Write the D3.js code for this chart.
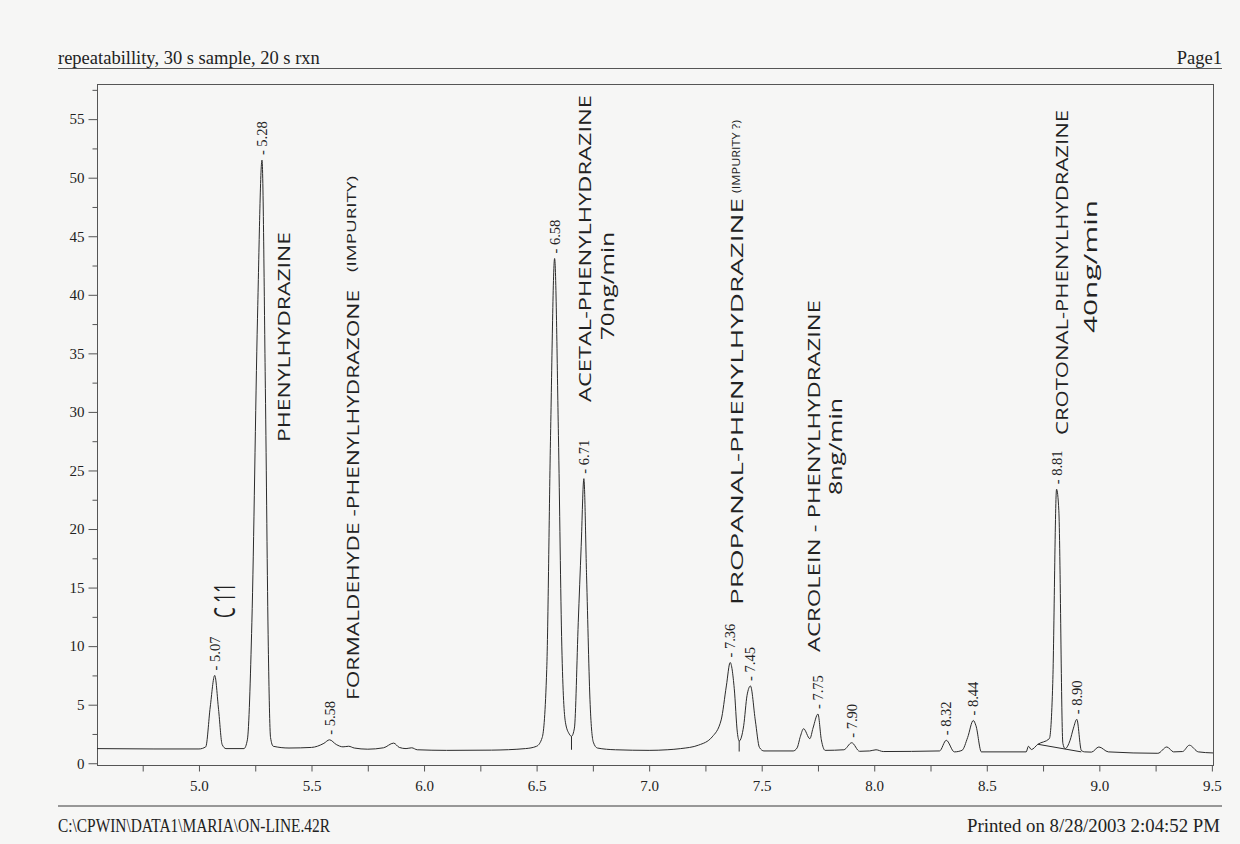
<!DOCTYPE html>
<html>
<head>
<meta charset="utf-8">
<script src="https://cdn.jsdelivr.net/npm/d3@7"></script>
<style>
  html, body { margin: 0; padding: 0; background: #f6f6f5; }
  svg { display: block; }
</style>
</head>
<body>
<svg id="chart" width="1240" height="844"></svg>
<script>
// ---- page texts ----
const titleText = "repeatabillity, 30 s sample, 20 s rxn";
const pageText = "Page1";
const fileText = "C:\\CPWIN\\DATA1\\MARIA\\ON-LINE.42R";
const printedText = "Printed on 8/28/2003 2:04:52 PM";

// ---- labelled peaks: retention time (min) and apex height ----
const peakTimes   = [5.07, 5.28, 5.58, 6.58, 6.71, 7.36, 7.45, 7.75, 7.90, 8.32, 8.44, 8.81, 8.90];
const peakHeights = [7.5, 51.5, 2.0, 43.1, 24.3, 8.6, 6.6, 4.2, 1.75, 1.96, 3.65, 23.4, 3.75];

// ---- the rest of the detector trace (time, signal) ----
const traceTimes = [
  4.547, 4.80, 5.00, 5.03, 5.05, 5.087, 5.103, 5.12, 5.20, 5.215, 5.235, 5.26,
  5.295, 5.308, 5.318, 5.33, 5.40, 5.50, 5.555, 5.61, 5.64, 5.665, 5.69, 5.75,
  5.82, 5.865, 5.89, 5.92, 5.945, 5.97, 6.10, 6.30, 6.45, 6.50, 6.525, 6.545, 6.562,
  6.597, 6.612, 6.628, 6.645, 6.655, 6.668, 6.685, 6.698,
  6.722, 6.738, 6.752, 6.77, 6.85, 7.00, 7.08, 7.14, 7.22, 7.28, 7.32, 7.343,
  7.378, 7.392, 7.40, 7.42, 7.435, 7.472, 7.49, 7.51, 7.64, 7.657, 7.672, 7.686,
  7.714, 7.728, 7.765, 7.782, 7.865, 7.935, 7.98, 8.008, 8.04, 8.29, 8.356,
  8.39, 8.415, 8.452, 8.476, 8.675, 8.685, 8.698, 8.727, 8.778, 8.793,
  8.82, 8.838, 8.848, 8.87, 8.885, 8.92, 8.935, 8.965, 8.998, 9.04, 9.26,
  9.30, 9.33, 9.37, 9.40, 9.44, 9.505
];
const traceValues = [
  1.25, 1.22, 1.22, 1.40, 4.8, 4.6, 1.6, 1.25, 1.25, 2.0, 12, 38,
  32, 10, 2.2, 1.45, 1.3, 1.35, 1.7, 1.6, 1.4, 1.45, 1.3, 1.2,
  1.32, 1.72, 1.35, 1.25, 1.32, 1.15, 1.1, 1.12, 1.25, 1.45, 2.2, 8, 28,
  28, 10, 3.5, 2.5, 2.3, 3.0, 12, 18.5,
  16, 5, 1.8, 1.3, 1.15, 1.1, 1.15, 1.25, 1.55, 2.25, 3.7, 6.6,
  6.4, 2.6, 1.9, 3.2, 5.8, 3.6, 1.35, 1.05, 1.05, 1.3, 2.3, 2.95,
  2.1, 3.0, 2.0, 1.1, 1.15, 1.02, 1.05, 1.15, 1.0, 1.05, 0.97,
  1.1, 2.2, 3.2, 0.97, 0.97, 1.45, 1.17, 1.62, 2.1, 6.8,
  21.6, 1.7, 1.25, 1.96, 3.0, 1.1, 0.97, 0.95, 1.39, 0.97, 0.85,
  1.39, 0.97, 1.0, 1.54, 0.97, 0.88
];

// ---- integration marks: drop lines [time, top, bottom] and a skimmed baseline ----
const dropLines = [[6.655, 2.3, 1.15], [7.40, 1.9, 1.0]];
const skimLine = [[8.727, 1.62], [8.92, 0.97]];

// ---- axis ticks ----
const yMajorTicks = [0, 5, 10, 15, 20, 25, 30, 35, 40, 45, 50, 55];
const yMinorTicks = [2.5, 7.5, 12.5, 17.5, 22.5, 27.5, 32.5, 37.5, 42.5, 47.5, 52.5, 57.5];
const xTicks = [4.75, 5.0, 5.25, 5.5, 5.75, 6.0, 6.25, 6.5, 6.75, 7.0, 7.25, 7.5, 7.75, 8.0, 8.25, 8.5, 8.75, 9.0, 9.25, 9.5];
const xTickLabels = ["5.0", "5.5", "6.0", "6.5", "7.0", "7.5", "8.0", "8.5", "9.0", "9.5"];

// ---- hand-written notes: text, column x, bottom y, top y, font size ----
const noteTexts = [
  "C 11", "PHENYLHYDRAZINE", "FORMALDEHYDE -PHENYLHYDRAZONE", "(IMPURITY)",
  "ACETAL-PHENYLHYDRAZINE", "70ng/min", "PROPANAL-PHENYLHYDRAZINE", "(IMPURITY ?)",
  "ACROLEIN - PHENYLHYDRAZINE", "8ng/min", "CROTONAL-PHENYLHYDRAZINE", "40ng/min"
];
const noteX      = [223, 283, 352, 351, 584, 607, 737, 736, 813, 835, 1062, 1090];
const noteBottom = [618, 442, 700, 272, 402, 340, 605, 193, 652, 495, 435, 333];
const noteTop    = [583, 232, 290, 176, 95, 232, 198, 120, 300, 398, 110, 200];
const noteSize   = [30, 17, 16.5, 12, 16.5, 18, 16, 10, 16.5, 18, 16, 18];

// ---- layout ----
const svg = d3.select("#chart");
const frame = { left: 97, right: 1213, top: 84, bottom: 765 };
const serif = "'Liberation Serif', 'Times New Roman', serif";
const hand = "'Open Sans', 'DejaVu Sans', sans-serif";

const x = d3.scaleLinear().domain([4.547, 9.505]).range([frame.left, frame.right]);
const y = d3.scaleLinear().domain([-0.15, 58]).range([frame.bottom, frame.top]);

// header
svg.append("text").attr("x", 58).attr("y", 64)
  .attr("font-family", serif).attr("font-size", 18.5).attr("fill", "#222")
  .text(titleText);
svg.append("text").attr("x", 1222).attr("y", 64).attr("text-anchor", "end")
  .attr("font-family", serif).attr("font-size", 18.5).attr("fill", "#222")
  .text(pageText);
svg.append("line").attr("x1", 58).attr("x2", 1222).attr("y1", 68.5).attr("y2", 68.5)
  .attr("stroke", "#555").attr("stroke-width", 1);

// footer
svg.append("line").attr("x1", 58).attr("x2", 1222).attr("y1", 806).attr("y2", 806)
  .attr("stroke", "#777").attr("stroke-width", 1.6);
svg.append("text").attr("x", 58).attr("y", 832)
  .attr("font-family", serif).attr("font-size", 18).attr("fill", "#222")
  .attr("textLength", 272).attr("lengthAdjust", "spacingAndGlyphs")
  .text(fileText);
svg.append("text").attr("x", 1220).attr("y", 832).attr("text-anchor", "end")
  .attr("font-family", serif).attr("font-size", 18).attr("fill", "#222")
  .attr("textLength", 253).attr("lengthAdjust", "spacingAndGlyphs")
  .text(printedText);

// frame
svg.append("rect")
  .attr("x", frame.left + 0.5).attr("y", frame.top + 0.5)
  .attr("width", frame.right - frame.left).attr("height", frame.bottom - frame.top)
  .attr("fill", "none").attr("stroke", "#555").attr("stroke-width", 1);

// y axis: labelled majors and half-step minors
const yAxisMajor = svg.append("g").attr("transform", `translate(${frame.left + 0.5},0)`)
  .call(d3.axisLeft(y).tickValues(yMajorTicks).tickSize(9).tickPadding(4).tickFormat(d3.format("d")));
const yAxisMinor = svg.append("g").attr("transform", `translate(${frame.left + 0.5},0)`)
  .call(d3.axisLeft(y).tickValues(yMinorTicks.filter(v => v < 58)).tickSize(5).tickFormat(""));

// x axis: quarter-minute ticks, labels on the half minutes
const labelled = new Set(xTickLabels);
const xAxis = svg.append("g").attr("transform", `translate(0,${frame.bottom + 0.5})`)
  .call(d3.axisBottom(x).tickValues(xTicks).tickSize(6).tickPadding(9)
    .tickFormat(d => labelled.has(d.toFixed(1)) && Math.abs(d * 2 - Math.round(d * 2)) < 1e-6 ? d.toFixed(1) : ""));

[yAxisMajor, yAxisMinor, xAxis].forEach(g => {
  g.select(".domain").remove();
  g.selectAll(".tick line").attr("stroke", "#555");
  g.selectAll(".tick text").attr("font-family", serif).attr("font-size", 15).attr("fill", "#222");
});

// detector trace: apexes merged with the other trace points
const trace = traceTimes.map((t, i) => [t, traceValues[i]])
  .concat(peakTimes.map((t, i) => [t, peakHeights[i]]))
  .sort((a, b) => a[0] - b[0]);

const line = d3.line().x(d => x(d[0])).y(d => y(d[1])).curve(d3.curveMonotoneX);
svg.append("path").datum(trace)
  .attr("d", line).attr("fill", "none")
  .attr("stroke", "#2b2b2b").attr("stroke-width", 1).attr("stroke-linejoin", "round");

// integration marks
svg.selectAll(".drop").data(dropLines).join("line").attr("class", "drop")
  .attr("x1", d => x(d[0])).attr("x2", d => x(d[0]))
  .attr("y1", d => y(d[1])).attr("y2", d => y(d[2]))
  .attr("stroke", "#2b2b2b").attr("stroke-width", 1);
svg.append("path").datum(skimLine)
  .attr("d", d3.line().x(d => x(d[0])).y(d => y(d[1])))
  .attr("fill", "none").attr("stroke", "#2b2b2b").attr("stroke-width", 1);

// retention-time labels above each apex
svg.selectAll(".rt").data(peakTimes).join("text").attr("class", "rt")
  .attr("transform", (t, i) => `translate(${x(t) + 5},${y(peakHeights[i]) - 5}) rotate(-90)`)
  .attr("font-family", serif).attr("font-size", 14.5).attr("fill", "#222")
  .text(t => "- " + t.toFixed(2));

// hand-written notes, written upward along the peaks
noteTexts.forEach((txt, i) => {
  svg.append("text")
    .attr("transform", `translate(${noteX[i]},${noteBottom[i]}) rotate(-90)`)
    .attr("dominant-baseline", "central")
    .attr("font-family", hand).attr("font-weight", 400)
    .attr("font-size", noteSize[i]).attr("fill", "#222")
    .attr("textLength", noteBottom[i] - noteTop[i]).attr("lengthAdjust", "spacingAndGlyphs")
    .text(txt);
});
</script>
</body>
</html>
